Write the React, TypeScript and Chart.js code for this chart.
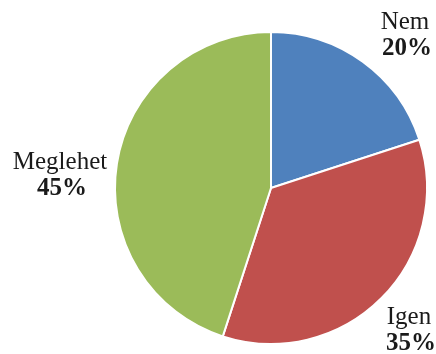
import React, { useEffect, useRef } from "react";
import { Chart, registerables } from "chart.js";

Chart.register(...registerables);

const categories = ["Nem", "Igen", "Meglehet"];
const values = [20, 35, 45];
const colors = ["#4F81BD", "#C0504D", "#9BBB59"];
const percentLabels = ["20%", "35%", "45%"];

// label anchors relative to the pie centre (dx, dy of the first line's baseline)
const labelAnchors = [
  { dx: 134, dy: -159 },
  { dx: 138, dy: 136 },
  { dx: -211, dy: -19 },
];

const labelPlugin = {
  id: "outerLabels",
  afterDatasetsDraw(chart: any) {
    const ctx = chart.ctx;
    const meta = chart.getDatasetMeta(0);
    ctx.save();
    ctx.fillStyle = "#1a1a1a";
    ctx.textAlign = "center";
    ctx.textBaseline = "alphabetic";
    meta.data.forEach((arc: any, i: number) => {
      const a = labelAnchors[i];
      const x = arc.x + a.dx;
      const y = arc.y + a.dy;
      ctx.font = "25px 'Liberation Serif', 'Times New Roman', serif";
      ctx.fillText(chart.data.labels[i], x, y);
      ctx.font = "bold 25px 'Liberation Serif', 'Times New Roman', serif";
      ctx.fillText(percentLabels[i], x + 2, y + 26);
    });
    ctx.restore();
  },
};

export default function App() {
  const ref = useRef<HTMLCanvasElement>(null);
  useEffect(() => {
    document.body.style.margin = "0";
    const chart = new Chart(ref.current!, {
      type: "pie",
      data: {
        labels: categories,
        datasets: [
          {
            data: values,
            backgroundColor: colors,
            borderColor: "#ffffff",
            borderWidth: 2,
          },
        ],
      },
      options: {
        responsive: false,
        animation: false,
        layout: { padding: { left: 114, right: 8, top: 31, bottom: 9 } },
        plugins: {
          legend: { display: false },
          tooltip: { enabled: false },
        },
      },
      plugins: [labelPlugin],
    });
    return () => chart.destroy();
  }, []);
  return (
    <div style={{ position: "fixed", left: 0, top: 0, width: 436, height: 354, background: "#fff" }}>
      <canvas ref={ref} width={436} height={354} />
    </div>
  );
}
